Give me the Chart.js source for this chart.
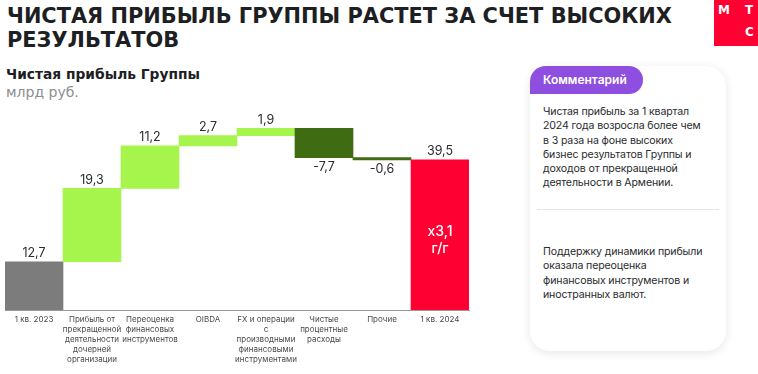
<!DOCTYPE html>
<html lang="ru">
<head>
<meta charset="utf-8">
<script src="https://cdn.jsdelivr.net/npm/chart.js@4.4.1/dist/chart.umd.min.js"></script>
<style>
  body { margin: 0; width: 758px; height: 374px; background: #fff; position: relative; overflow: hidden; font-family: "Inter", "Liberation Sans", sans-serif; color: #1d2023; }
  .title { position: absolute; left: 7px; top: 4px; font: 700 20.9px/24px "DejaVu Sans", sans-serif; white-space: nowrap; }
  .sub { position: absolute; left: 6px; top: 66px; font: 700 13.8px/17px "DejaVu Sans", sans-serif; }
  .unit { position: absolute; left: 6px; top: 84px; font: 400 14px/17px "DejaVu Sans", sans-serif; color: #8b8e92; }
  .logo { position: absolute; left: 714px; top: 0; width: 44px; height: 46px; background: #ff0032; color: #fff; font: 700 12px "DejaVu Sans", sans-serif; }
  .logo span { position: absolute; }
  .card { position: absolute; left: 530px; top: 66px; width: 196px; height: 285px; border-radius: 20px; background: #fff; box-shadow: 0 2px 10px rgba(0,0,0,0.10); }
  .tab { position: absolute; left: 0; top: 0; width: 113px; height: 28px; background: #8e4fe0; color: #fff; border-radius: 18px 16px 16px 0; font: 600 12px/28px "Inter", sans-serif; padding-left: 13px; box-sizing: border-box; }
  .txt { position: absolute; left: 13px; width: 180px; font: 400 10.6px/14.3px "Inter", sans-serif; letter-spacing: -0.15px; color: #2a2c2f; }
  .sep { position: absolute; left: 7px; top: 143px; width: 182px; height: 1px; background: #e6e6e6; }
  #chart { position: absolute; left: 0; top: 100px; }
</style>
</head>
<body>
<div class="title">ЧИСТАЯ ПРИБЫЛЬ ГРУППЫ РАСТЕТ ЗА СЧЕТ ВЫСОКИХ<br>РЕЗУЛЬТАТОВ</div>
<div class="logo"><span style="left:4px;top:3px">М</span><span style="left:31px;top:3px">Т</span><span style="left:31px;top:25px">С</span></div>
<div class="sub">Чистая прибыль Группы</div>
<div class="unit">млрд руб.</div>
<canvas id="chart" width="475" height="274"></canvas>
<div class="card">
  <div class="tab">Комментарий</div>
  <div class="txt" style="top:39px">Чистая прибыль за 1 квартал<br>2024 года возросла более чем<br>в 3 раза на фоне высоких<br>бизнес результатов Группы и<br>доходов от прекращенной<br>деятельности в Армении.</div>
  <div class="sep"></div>
  <div class="txt" style="top:179px">Поддержку динамики прибыли<br>оказала переоценка<br>финансовых инструментов и<br>иностранных валют.</div>
</div>
<script>
// categories (multi-line labels) and values, млрд руб.
const categories = [
  ["1 кв. 2023"],
  ["Прибыль от", "прекращенной", "деятельности", "дочерней", "организации"],
  ["Переоценка", "финансовых", "инструментов"],
  ["OIBDA"],
  ["FX и операции", "с", "производными", "финансовыми", "инструментами"],
  ["Чистые", "процентные", "расходы"],
  ["Прочие"],
  ["1 кв. 2024"]
];
// first and last are totals, the rest are changes
const values = [12.7, 19.3, 11.2, 2.7, 1.9, -7.7, -0.6, 39.5];
const isTotal = [true, false, false, false, false, false, false, true];
const totalNote = ["x3,1", "г/г"];

const colors = ["#7c7c7c", "#a6f54c", "#a6f54c", "#a6f54c", "#a6f54c", "#3f6b12", "#3f6b12", "#ff0032"];

// floating ranges for the waterfall
let running = 0;
const ranges = values.map((v, i) => {
  if (isTotal[i]) { running = v; return [0, v]; }
  const start = running;
  running += v;
  return [start, running];
});

function fmt(v) {
  return String(v).replace(".", ",");
}

const labelPlugin = {
  id: "valueLabels",
  afterDatasetsDraw(chart) {
    const ctx = chart.ctx;
    const meta = chart.getDatasetMeta(0);
    ctx.save();
    ctx.textAlign = "center";
    ctx.font = "400 12.5px Inter, sans-serif";
    meta.data.forEach((bar, i) => {
      const top = Math.min(bar.y, bar.base);
      const bottom = Math.max(bar.y, bar.base);
      ctx.fillStyle = "#2a2c2f";
      if (values[i] < 0) {
        ctx.textBaseline = "top";
        ctx.fillText(fmt(values[i]), bar.x, bottom + 3);
      } else {
        ctx.textBaseline = "bottom";
        ctx.fillText(fmt(values[i]), bar.x, top - 2);
      }
    });
    // note inside the last bar
    const last = meta.data[meta.data.length - 1];
    const mid = (last.y + last.base) / 2;
    ctx.fillStyle = "#ffffff";
    ctx.font = "500 14px Inter, sans-serif";
    ctx.textBaseline = "middle";
    ctx.fillText(totalNote[0], last.x, mid - 3);
    ctx.fillText(totalNote[1], last.x, mid + 14);
    ctx.restore();
  }
};

new Chart(document.getElementById("chart").getContext("2d"), {
  type: "bar",
  data: {
    labels: categories,
    datasets: [{
      data: ranges,
      backgroundColor: colors,
      borderWidth: 0,
      barPercentage: 1,
      categoryPercentage: 1
    }]
  },
  options: {
    responsive: false,
    animation: false,
    devicePixelRatio: 1,
    layout: { padding: { left: 5, right: 6, top: 20, bottom: 4 } },
    plugins: { legend: { display: false }, tooltip: { enabled: false } },
    scales: {
      x: {
        grid: { display: false, drawTicks: false },
        border: { display: true, color: "#9a9a9a", width: 1 },
        ticks: { color: "#4a4a4a", font: { size: 8, family: "Inter", lineHeight: 1.25 }, maxRotation: 0, autoSkip: false, padding: 5 }
      },
      y: { display: false, min: 0, max: 50 }
    }
  },
  plugins: [labelPlugin]
});
</script>
</body>
</html>
